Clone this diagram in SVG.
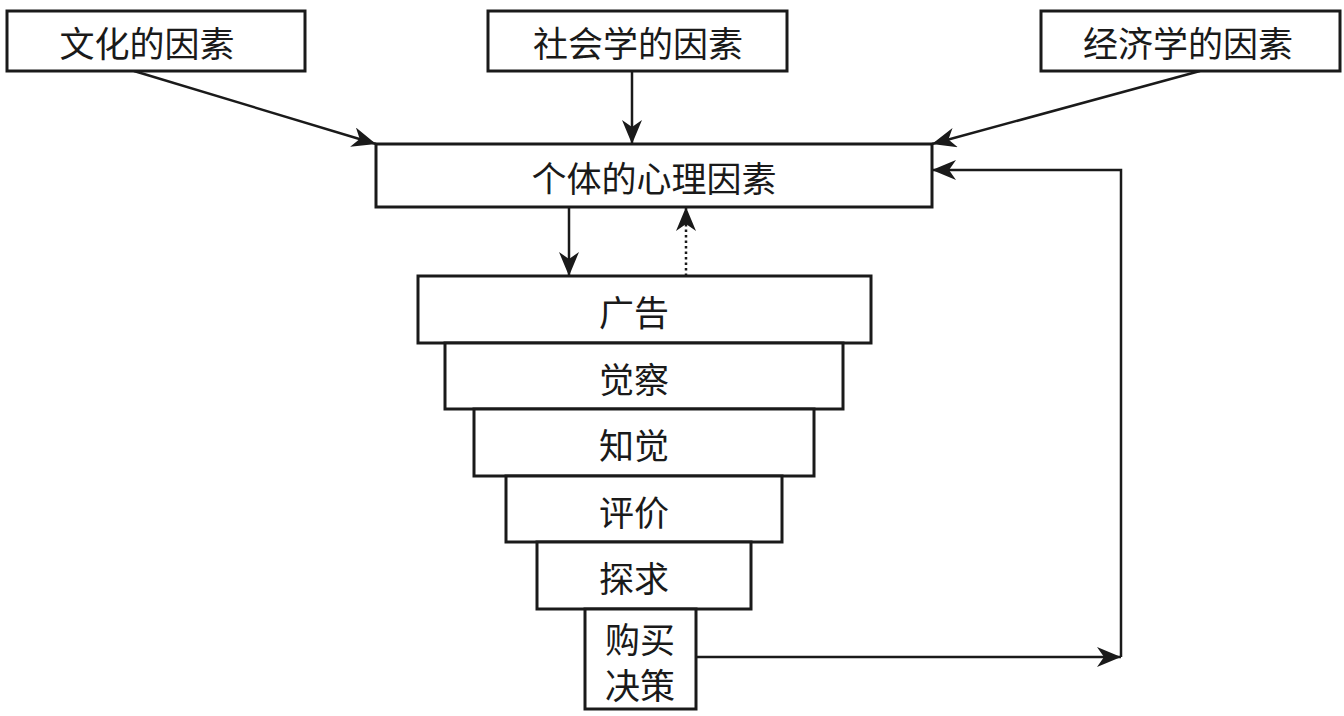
<svg xmlns="http://www.w3.org/2000/svg" width="1344" height="716" viewBox="0 0 1344 716">
<style>
.box{fill:#fff;stroke:#1a1a1a;stroke-width:3}
.t{font-family:"Noto Sans CJK SC","Noto Sans CJK TC",sans-serif;font-size:35px;fill:#1a1a1a;text-anchor:middle;dominant-baseline:central}
.c{fill:none;stroke:#1a1a1a;stroke-width:2.5}
.d{fill:none;stroke:#1a1a1a;stroke-width:2.5;stroke-dasharray:2.5 3}
</style>
<defs>
<marker id="ahl" viewBox="0 0 12 10" refX="12" refY="5" markerWidth="24" markerHeight="20" markerUnits="userSpaceOnUse" orient="auto">
<path d="M0,0 L12,5 L0,10 L3.5,5 z" fill="#1a1a1a"/>
</marker>
</defs>
<rect width="1344" height="716" fill="#fff"/>
<g id="connectors">
<line class="c" x1="134" y1="71" x2="376" y2="144" marker-end="url(#ahl)"/>
<line class="c" x1="632" y1="71" x2="632" y2="144" marker-end="url(#ahl)"/>
<line class="c" x1="1200" y1="71" x2="932" y2="144" marker-end="url(#ahl)"/>
<line class="c" x1="569" y1="207" x2="569" y2="276" marker-end="url(#ahl)"/>
<line class="d" x1="686" y1="276" x2="686" y2="207" marker-end="url(#ahl)"/>
<line class="c" x1="696" y1="657" x2="1121" y2="657" marker-end="url(#ahl)"/>
<polyline class="c" points="1121,657 1121,170 932,170" marker-end="url(#ahl)"/>
</g>
<g id="n-culture"><rect class="box" x="7" y="11" width="298" height="60"/><text class="t" x="147" y="41">文化的因素</text></g>
<g id="n-social"><rect class="box" x="488" y="11" width="299" height="60"/><text class="t" x="638" y="41">社会学的因素</text></g>
<g id="n-economic"><rect class="box" x="1041" y="11" width="299" height="60"/><text class="t" x="1188" y="41">经济学的因素</text></g>
<g id="n-psych"><rect class="box" x="376" y="144" width="556" height="63"/><text class="t" x="654" y="176">个体的心理因素</text></g>
<g id="n-ad"><rect class="box" x="418" y="276" width="453" height="67"/><text class="t" x="634" y="310">广告</text></g>
<g id="n-aware"><rect class="box" x="445" y="343" width="398" height="66"/><text class="t" x="634" y="377">觉察</text></g>
<g id="n-perceive"><rect class="box" x="474" y="409" width="340" height="67"/><text class="t" x="634" y="443">知觉</text></g>
<g id="n-eval"><rect class="box" x="506" y="476" width="276" height="66"/><text class="t" x="634" y="510">评价</text></g>
<g id="n-seek"><rect class="box" x="537" y="542" width="214" height="67"/><text class="t" x="634" y="576">探求</text></g>
<g id="n-buy"><rect class="box" x="585" y="609" width="111" height="100"/><text class="t" x="640" y="637">购买</text><text class="t" x="640" y="683">决策</text></g>
</svg>
